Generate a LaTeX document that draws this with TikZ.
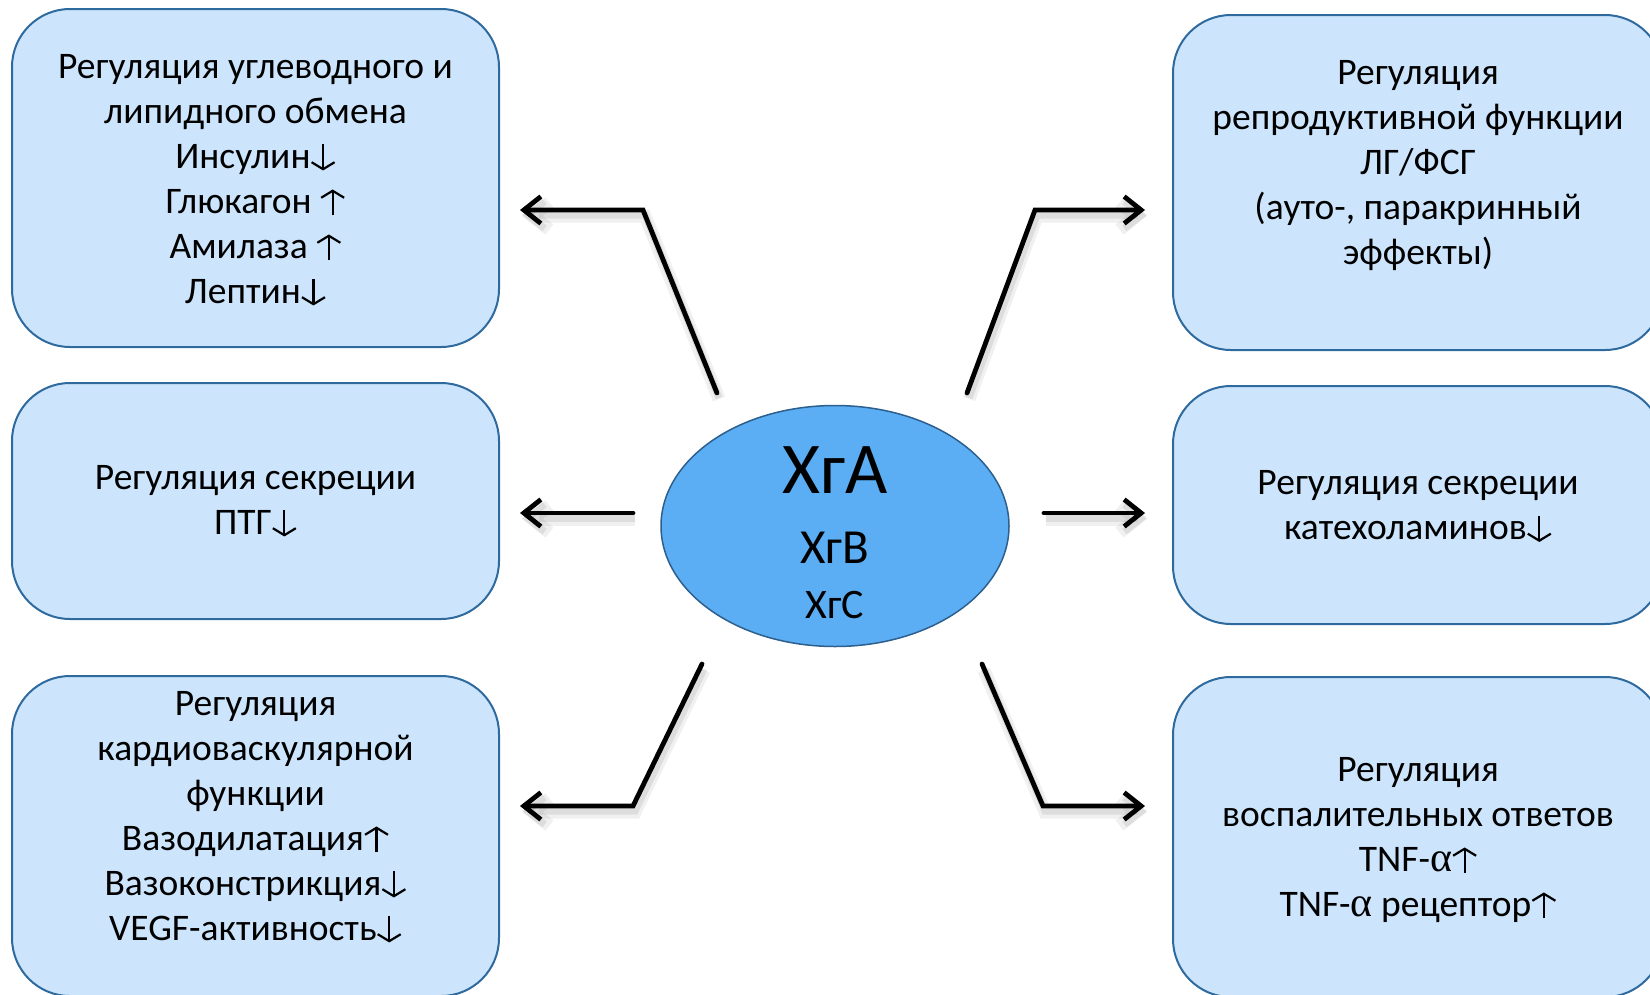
\documentclass[tikz,border=0pt]{standalone}
\usepackage{fontspec}
\setmainfont{Carlito}
\newfontfamily\grkfont{Liberation Serif}
\usetikzlibrary{arrows.meta,shapes.geometric,calc}
\definecolor{boxfill}{HTML}{CCE5FC}
\definecolor{boxline}{HTML}{2F6A9F}
\definecolor{ellfill}{HTML}{5BAEF3}
\definecolor{ellline}{HTML}{2C5F8E}
\newcommand\dnarr{\tikz[x=1pt,y=1pt,baseline=0pt]{\draw[line width=2.2pt,-{Straight Barb[length=7pt,width=23pt,line width=2.2pt]}] (0,24)--(0,-2);}}
\newcommand\uparr{\tikz[x=1pt,y=1pt,baseline=0pt]{\draw[line width=2.2pt,-{Straight Barb[length=7pt,width=23pt,line width=2.2pt]}] (0,-2)--(0,24);}}
\newcommand\alf{{\grkfont\fontsize{42}{45}\selectfont α}}
\tikzset{
  rbox/.style={draw=boxline, line width=2pt, fill=boxfill, rounded corners=58pt, inner sep=0pt},
  txt/.style={align=center, inner sep=0pt, font=\fontsize{37.5}{45}\selectfont},
  arr/.style={line width=4.8pt, line cap=round, line join=miter,
    -{Straight Barb[length=17pt,width=27pt]},
    preaction={draw=black, opacity=0.06, line width=13pt,
      transform canvas={shift={(2pt,-6pt)}}},
    preaction={draw=black, opacity=0.08, line width=7pt,
      transform canvas={shift={(2pt,-5pt)}}}},
}
\begin{document}
\begin{tikzpicture}[x=1pt,y=-1pt]
\useasboundingbox (0,0) rectangle (1650,994);
% boxes
\node[rbox, minimum width=487pt, minimum height=338pt] (tl) at (255.5,178) {};
\node[rbox, minimum width=487pt, minimum height=236pt] (ml) at (255.5,501) {};
\node[rbox, minimum width=487pt, minimum height=320pt] (bl) at (255.5,836) {};
\node[rbox, minimum width=490pt, minimum height=335pt] (tr) at (1418,182.5) {};
\node[rbox, minimum width=490pt, minimum height=238pt] (mr) at (1418,505) {};
\node[rbox, minimum width=490pt, minimum height=320pt] (br) at (1418,837) {};
% texts
\node[txt] (tltxt) at (255.5,180.5) {Регуляция углеводного и\\липидного обмена\\Инсулин\dnarr\\Глюкагон \uparr\\Амилаза \uparr\\Лептин\dnarr};
\node[txt] (mltxt) at (255.5,501.5) {Регуляция секреции\\ПТГ\dnarr};
\node[txt] (bltxt) at (255.5,817.5) {Регуляция\\кардиоваскулярной\\функции\\Вазодилатация\uparr\\Вазоконстрикция\dnarr\\VEGF-активность\dnarr};
\node[txt] (trtxt) at (1418,166) {Регуляция\\репродуктивной функции\\ЛГ/ФСГ\\(ауто-, паракринный\\эффекты)};
\node[txt] (mrtxt) at (1418,507) {Регуляция секреции\\катехоламинов\dnarr};
\node[txt] (brtxt) at (1418,840) {Регуляция\\воспалительных ответов\\TNF-\alf\uparr\\TNF-\alf{} рецептор\uparr};
% centre
\node[ellipse, draw=ellline, line width=1.5pt, fill=ellfill, minimum width=348pt, minimum height=241pt, inner sep=0pt] (c) at (835,526) {};
\node[inner sep=0pt, font=\fontsize{73}{80}\selectfont] (ca) at (835,470) {ХгА};
\node[inner sep=0pt, font=\fontsize{49}{55}\selectfont] (cb) at (835,548) {ХгВ};
\node[inner sep=0pt, font=\fontsize{42}{48}\selectfont] (cc) at (835,605) {ХгС};
% connector points
\coordinate (s1) at (717,393); \coordinate (b1) at (643,210); \coordinate (t1) at (520,210);
\coordinate (s2) at (633,513); \coordinate (t2) at (520,513);
\coordinate (s3) at (702,664); \coordinate (b3) at (633,806); \coordinate (t3) at (520,806);
\coordinate (s4) at (967,393); \coordinate (b4) at (1035,210); \coordinate (t4) at (1145,210);
\coordinate (s5) at (1044,513); \coordinate (t5) at (1145,513);
\coordinate (s6) at (982,664); \coordinate (b6) at (1043,806); \coordinate (t6) at (1145,806);
\draw[arr] (s1) -- (b1) -- (t1);
\draw[arr] (s2) -- (t2);
\draw[arr] (s3) -- (b3) -- (t3);
\draw[arr] (s4) -- (b4) -- (t4);
\draw[arr] (s5) -- (t5);
\draw[arr] (s6) -- (b6) -- (t6);
\end{tikzpicture}
\end{document}
